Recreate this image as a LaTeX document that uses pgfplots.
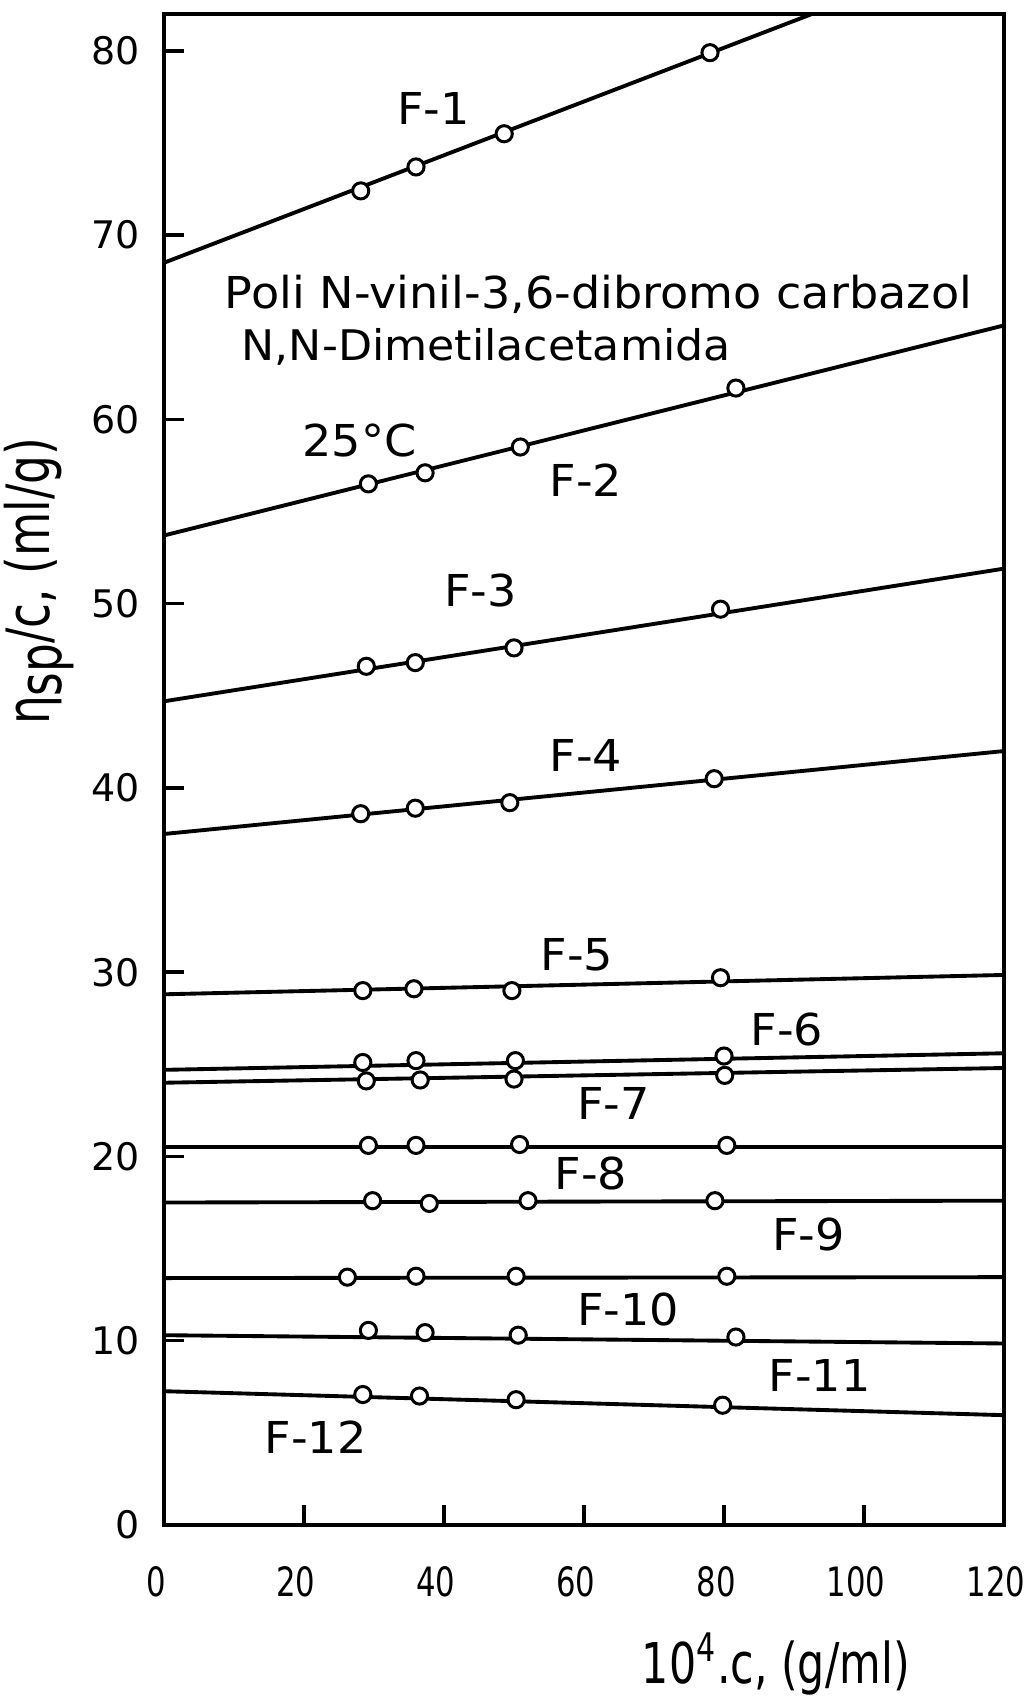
\documentclass[border=0pt]{standalone}
\usepackage{fontspec}
\setmainfont{DejaVu Sans}
\newfontfamily\narrowfont[FakeStretch=0.76]{DejaVu Sans}
\newfontfamily\ylabfont[FakeStretch=0.76]{DejaVu Sans}
\newfontfamily\widefont[FakeStretch=1.05]{DejaVu Sans}
\usepackage{pgfplots}
\pgfplotsset{compat=1.18}
\pgfplotsset{
  fitline/.style={black, line width=1.1pt},
  pts/.style={only marks, mark=*, mark size=2.3pt,
    mark options={fill=white, draw=black, line width=0.85pt}},
}
\tikzset{flab/.style={anchor=base west, inner sep=0pt, font=\widefont\fontsize{12.5}{14}\selectfont}}
\begin{document}
\begin{tikzpicture}
\begin{axis}[
  at={(0,0)}, anchor=south west,
  scale only axis, width=84mm, height=151.1mm,
  xmin=0, xmax=120, ymin=0, ymax=82,
  xtick={0,20,...,120}, ytick={0,10,...,80},
  xtick pos=bottom, ytick pos=left,
  tick align=inside,
  major tick length=2mm,
  tick style={black, line width=1pt},
  axis line style={black, line width=1.2pt},
  /pgf/number format/assume math mode=true,
  xticklabel style={font=\narrowfont\fontsize{11.5}{13}\selectfont, yshift=-2.9mm, xshift=-0.8mm},
  yticklabel style={font=\fontsize{10.8}{12}\selectfont, xshift=-1.2mm},
  clip mode=individual,
]
% F-1
\addplot[fitline] coordinates {(0,68.5) (120,86.0)};
\addplot[pts] coordinates {(28.1,72.4) (36.0,73.7) (48.6,75.5) (78.0,79.9)};
% F-2
\addplot[fitline] coordinates {(0,53.7) (120,65.1)};
\addplot[pts] coordinates {(29.2,56.5) (37.3,57.1) (50.9,58.5) (81.7,61.7)};
% F-3
\addplot[fitline] coordinates {(0,44.7) (120,51.9)};
\addplot[pts] coordinates {(28.9,46.6) (35.9,46.8) (50.0,47.6) (79.5,49.7)};
% F-4
\addplot[fitline] coordinates {(0,37.5) (120,42.0)};
\addplot[pts] coordinates {(28.1,38.6) (35.9,38.9) (49.4,39.2) (78.6,40.5)};
% F-5
\addplot[fitline] coordinates {(0,28.8) (120,29.85)};
\addplot[pts] coordinates {(28.4,29.0) (35.7,29.1) (49.7,29.0) (79.5,29.7)};
% F-6
\addplot[fitline] coordinates {(0,24.7) (120,25.6)};
\addplot[pts] coordinates {(28.4,25.1) (36.0,25.2) (50.2,25.2) (80.0,25.45)};
% F-7
\addplot[fitline] coordinates {(0,24.0) (120,24.8)};
\addplot[pts] coordinates {(28.9,24.1) (36.6,24.15) (50.0,24.2) (80.1,24.4)};
% F-8
\addplot[fitline] coordinates {(0,20.5) (120,20.5)};
\addplot[pts] coordinates {(29.2,20.6) (36.0,20.6) (50.8,20.65) (80.4,20.6)};
% F-9
\addplot[fitline] coordinates {(0,17.5) (120,17.6)};
\addplot[pts] coordinates {(29.8,17.6) (37.9,17.45) (52.0,17.6) (78.7,17.6)};
% F-10
\addplot[fitline] coordinates {(0,13.4) (120,13.45)};
\addplot[pts] coordinates {(26.2,13.45) (36.0,13.5) (50.3,13.5) (80.4,13.5)};
% F-11
\addplot[fitline] coordinates {(0,10.3) (120,9.85)};
\addplot[pts] coordinates {(29.2,10.56) (37.3,10.44) (50.6,10.3) (81.7,10.2)};
% F-12
\addplot[fitline] coordinates {(0,7.26) (120,5.96)};
\addplot[pts] coordinates {(28.4,7.08) (36.5,7.0) (50.3,6.8) (79.8,6.5)};

\node[flab] at (axis cs:33.2,76.0) {F-1};
\node[flab] at (axis cs:55.0,55.8) {F-2};
\node[flab] at (axis cs:39.9,49.85) {F-3};
\node[flab] at (axis cs:55.0,40.9) {F-4};
\node[flab] at (axis cs:53.7,30.1) {F-5};
\node[flab] at (axis cs:83.7,26.0) {F-6};
\node[flab] at (axis cs:58.9,22.0) {F-7};
\node[flab] at (axis cs:55.7,18.2) {F-8};
\node[flab] at (axis cs:86.8,14.9) {F-9};
\node[flab] at (axis cs:58.9,10.8) {F-10};
\node[flab] at (axis cs:86.3,7.26) {F-11};
\node[flab] at (axis cs:14.3,3.9) {F-12};
\node[flab] at (axis cs:8.6,66.0) {Poli N-vinil-3,6-dibromo carbazol};
\node[flab, font=\widefont\fontsize{12}{14}\selectfont] at (axis cs:11.0,63.2) {N,N-Dimetilacetamida};
\node[flab] at (axis cs:19.7,58.0) {25°C};

\node[rotate=90, font=\ylabfont\fontsize{17}{19}\selectfont] at ([xshift=-12.5mm]axis cs:0,51.2)
  {η\raisebox{-0.35ex}{sp}/c, (ml/g)};
\node[font=\narrowfont\fontsize{16}{18}\selectfont] at ([yshift=-13.9mm]axis cs:87.4,0)
  {10\textsuperscript{4}.c, (g/ml)};
\end{axis}
\pgfresetboundingbox
\path (-16.4mm,-17.9mm) rectangle (86.2mm,152.5mm);
\end{tikzpicture}
\end{document}
